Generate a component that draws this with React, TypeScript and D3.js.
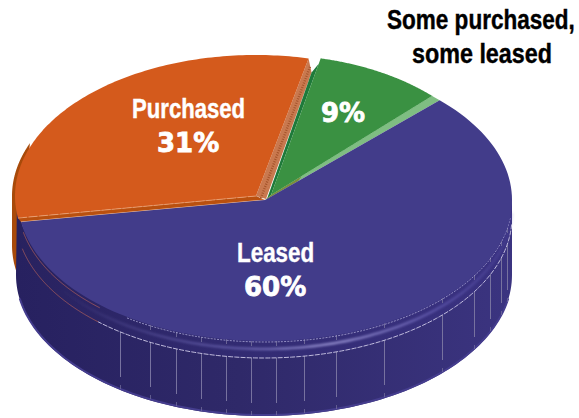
import React from "react";
import * as d3 from "d3";

// Share of each acquisition type, in percent
const categories = ["Leased", "Purchased", "Some purchased, some leased"];
const shares = [60, 31, 9];
const shareLabels = ["60%", "31%", "9%"];
const calloutLines = ["Some purchased,", "some leased"];
// Where the moulded ribs sit round the drum wall, in degrees clockwise from the top
const ribAngles = [215.4, 207.2, 200.6, 194.5, 188.6, 183, 177, 170.7, 163, 151, 134, 122, 114, 107, 101.5];

const W = 579;
const H = 418;
const DEG = Math.PI / 180;
const cx = 265;
const rx = 247;
const ry = 141;
const wallX = 264;
const wallRx = 248;
const faceY = 200;
const lipY = 217;
const wallBottomY = 275;

type Ellipse = { x: number; y: number; rx: number; ry: number };
type Pt = [number, number];

const rimPoint = (e: Ellipse, a: number): Pt => [e.x + e.rx * Math.sin(a), e.y - e.ry * Math.cos(a)];
const rimArc = (e: Ellipse, a0: number, a1: number): Pt[] =>
  d3.range(0, 121).map((i) => rimPoint(e, a0 + ((a1 - a0) * i) / 120));
const line = d3.line<Pt>();
const closed = (pts: Pt[]) => line(pts) + "Z";

const slices = d3
  .pie<number>()
  .sort(null)
  .startAngle(45 * DEG)
  .endAngle(405 * DEG)(shares);
const [leased, purchased, mixed] = slices;

const leasedFace: Ellipse = { x: cx, y: faceY, rx, ry };
const purchasedFace: Ellipse = { x: 256, y: 196, rx: 241, ry: 141 };
const mixedFace: Ellipse = { x: 271, y: 195, rx: 228, ry: 140 };
const wallEllipse = (y: number): Ellipse => ({ x: wallX, y, rx: wallRx, ry });

const wedge = (e: Ellipse, a0: number, a1: number) => closed([[e.x, e.y], ...rimArc(e, a0, a1)]);

const pCorner0 = rimPoint(purchasedFace, purchased.startAngle);
const pCorner1 = rimPoint(purchasedFace, purchased.endAngle);
const mCorner0 = rimPoint(mixedFace, mixed.startAngle);
const mCorner1 = rimPoint(mixedFace, mixed.endAngle);
const lCorner0 = rimPoint(leasedFace, leased.startAngle);
const lCorner1 = rimPoint(leasedFace, leased.endAngle);
const apex: Pt = [cx, faceY];
const pApex: Pt = [purchasedFace.x, purchasedFace.y];
const mApex: Pt = [mixedFace.x, mixedFace.y];
const stripEnd: Pt = [pCorner1[0] + 3, pCorner1[1] + 14];

const lerp = (a: Pt, b: Pt, t: number): Pt => [a[0] + (b[0] - a[0]) * t, a[1] + (b[1] - a[1]) * t];

// The wall's upper edge runs a little under the top face so no seam shows between them
const wallCloseAngle = 265 * DEG;
const underFace = wallEllipse(faceY - 6);
const wallPath = closed([
  ...rimArc(underFace, 90 * DEG, wallCloseAngle),
  ...rimArc(wallEllipse(wallBottomY), 270 * DEG, 90 * DEG),
]);
const lipPath = closed([
  ...rimArc(underFace, 90 * DEG, wallCloseAngle),
  ...rimArc(wallEllipse(lipY), wallCloseAngle, 90 * DEG),
]);

const orangeWallTop: Ellipse = { x: 258, y: 196, rx: 246, ry: 141 };
const orangeWallBottom: Ellipse = { x: 258, y: 245, rx: 246, ry: 141 };
const orangeWall = closed([
  ...rimArc(orangeWallTop, 292 * DEG, 270 * DEG),
  ...rimArc(orangeWallBottom, 270 * DEG, 258 * DEG),
]);

const pctFont = "'DejaVu Sans', sans-serif";

type LabelProps = { x: number; y: number; squeeze: number; size: number; fill: string; children: string };
// Condensed heading: Liberation Sans Bold squeezed horizontally
const Heading = ({ x, y, squeeze, size, fill, children }: LabelProps) => (
  <text
    transform={`translate(${x},${y}) scale(${squeeze},1)`}
    fontFamily="'Liberation Sans', sans-serif"
    fontWeight={700}
    fontSize={size}
    fill={fill}
    stroke={fill}
    strokeWidth={0.4}
  >
    {children}
  </text>
);
const Share = ({ x, y, squeeze, size, fill, children }: LabelProps) => (
  <text
    transform={`translate(${x},${y}) scale(${squeeze},1)`}
    fontFamily={pctFont}
    fontWeight={700}
    fontSize={size}
    fill={fill}
    stroke={fill}
    strokeWidth={0.8}
  >
    {children}
  </text>
);

export default function App() {
  const ribs = ribAngles.map((d) => d * DEG);
  return (
    <svg
      width={W}
      height={H}
      viewBox={`0 0 ${W} ${H}`}
      style={{ position: "absolute", left: 0, top: 0, background: "#fff" }}
    >
      <defs>
        <linearGradient id="wallShade" gradientUnits="userSpaceOnUse" x1={16} x2={512} y1={0} y2={0}>
          <stop offset="0" stopColor="#272160" />
          <stop offset="0.45" stopColor="#2f2969" />
          <stop offset="1" stopColor="#3b3480" />
        </linearGradient>
        <linearGradient id="lipShade" gradientUnits="userSpaceOnUse" x1={16} x2={512} y1={0} y2={0}>
          <stop offset="0" stopColor="#28225f" />
          <stop offset="0.5" stopColor="#332c74" />
          <stop offset="1" stopColor="#3a3282" />
        </linearGradient>
        <linearGradient id="lipGlow" gradientUnits="userSpaceOnUse" x1={60} x2={512} y1={0} y2={0}>
          <stop offset="0" stopColor="#6a64b0" stopOpacity="0" />
          <stop offset="0.4" stopColor="#6a64b0" stopOpacity="0.75" />
          <stop offset="0.6" stopColor="#8e88c8" stopOpacity="1" />
          <stop offset="0.85" stopColor="#5a52a8" stopOpacity="0.8" />
          <stop offset="1" stopColor="#5a52a8" stopOpacity="0.2" />
        </linearGradient>
        <filter id="soft" x="-5%" y="-20%" width="110%" height="140%">
          <feGaussianBlur stdDeviation="1.1" />
        </filter>
      </defs>

      {/* Orange wall peeking out behind the left of the drum */}
      <path d={orangeWall} fill="#a84a0a" />

      {/* Drum wall and moulded lip of the leased slice */}
      <path d={wallPath} fill="url(#wallShade)" />
      <path
        d={line(rimArc(wallEllipse(wallBottomY - 1), 100 * DEG, 260 * DEG)) ?? ""}
        fill="none"
        stroke="#453d8e"
        strokeWidth={2}
      />
      <path d={lipPath} fill="url(#lipShade)" />
      <path
        d={line(rimArc(wallEllipse(faceY + 8), 92 * DEG, 240 * DEG)) ?? ""}
        fill="none"
        stroke="url(#lipGlow)"
        strokeWidth={2.6}
        filter="url(#soft)"
      />

      {/* Ribs on the wall, with a short stub at the base and at the lip */}
      {ribs.map((a, i) => {
        const [x1, y1] = rimPoint(wallEllipse(lipY), a);
        const [, y2] = rimPoint(wallEllipse(wallBottomY - 13), a);
        const [, y3] = rimPoint(wallEllipse(wallBottomY - 5), a);
        const [, y4] = rimPoint(wallEllipse(wallBottomY - 1), a);
        const [, y5] = rimPoint(wallEllipse(faceY), a);
        const [, y6] = rimPoint(wallEllipse(faceY + 5), a);
        return (
          <g key={i} stroke="#77729f" strokeWidth={1} shapeRendering="crispEdges">
            <line x1={x1} x2={x1} y1={y1} y2={y2} />
            <line x1={x1} x2={x1} y1={y3} y2={y4} opacity={0.7} />
            {i > 0 && <line x1={x1} x2={x1} y1={y5} y2={y6} opacity={0.8} />}
          </g>
        );
      })}

      {/* Stitched highlights along the lip */}
      <path
        d={line(rimArc(wallEllipse(lipY), 93 * DEG, 222 * DEG)) ?? ""}
        fill="none"
        stroke="#cfcbe8"
        strokeWidth={0.9}
        strokeDasharray="5 1.2"
      />
      <path
        d={line(rimArc(wallEllipse(lipY), 222 * DEG, 257 * DEG)) ?? ""}
        fill="none"
        stroke="#a65a5c"
        strokeWidth={0.8}
      />
      <path
        d={line(rimArc({ ...leasedFace, y: faceY + 1 }, 97 * DEG, 214 * DEG)) ?? ""}
        fill="none"
        stroke="#aaa6d6"
        strokeWidth={0.8}
        strokeDasharray="2 1.2"
      />
      <path
        d={line(rimArc({ ...leasedFace, y: faceY + 3 }, 222 * DEG, 258 * DEG)) ?? ""}
        fill="none"
        stroke="#a65a5c"
        strokeWidth={0.8}
      />

      {/* Purchased slice: cut faces, then the top */}
      <path d={closed([pApex, pCorner1, stripEnd, [apex[0] + 1, apex[1] - 1]])} fill="#c9794f" />
      <path
        d={line([lerp(pApex, apex, 0.55), lerp(pCorner1, stripEnd, 0.55)]) ?? ""}
        stroke="#a4532a"
        strokeWidth={2.4}
        strokeDasharray="1 1.4"
        fill="none"
      />
      <path d={closed([pCorner0, pApex, apex, lCorner1])} fill="#b9500f" />
      <path d={line([lCorner1, apex]) ?? ""} stroke="#f6c4a0" strokeWidth={1.2} fill="none" />
      <path d={wedge(purchasedFace, purchased.startAngle, purchased.endAngle)} fill="#d45a1c" />
      <path
        d={line([pCorner0, pApex]) ?? ""}
        stroke="#eba377"
        strokeWidth={0.8}
        strokeDasharray="9 1.5"
        fill="none"
      />

      {/* Some-of-each slice: darker cut on the left, pale cut below */}
      <path
        d={closed([[apex[0] + 2, apex[1] - 1], stripEnd, lerp(mApex, mCorner0, 0.96), mApex])}
        fill="#1e7a3a"
      />
      <path d={closed([mApex, mCorner1, lCorner0, apex])} fill="#7fbe82" />
      <path
        d={closed([mApex, lerp(mApex, mCorner1, 0.19), lerp(apex, lCorner0, 0.19), apex])}
        fill="#7c8f3a"
      />
      <path d={wedge(mixedFace, mixed.startAngle, mixed.endAngle)} fill="#3a9142" />
      <path
        d={line([mCorner1, lerp(mCorner1, mApex, 0.8)]) ?? ""}
        stroke="#6fb473"
        strokeWidth={0.7}
        strokeDasharray="3 1.5"
        fill="none"
      />

      {/* Leased slice on top of everything */}
      <path d={wedge(leasedFace, leased.startAngle, leased.endAngle)} fill="#423c8a" />

      {/* Category and share labels */}
      <Heading x={132} y={118} squeeze={0.82} size={27} fill="#fff">{categories[1]}</Heading>
      <Share x={157} y={152} squeeze={1} size={26} fill="#fff">{shareLabels[1]}</Share>
      <Share x={321} y={122} squeeze={1} size={26} fill="#fff">{shareLabels[2]}</Share>
      <Heading x={237} y={262} squeeze={0.83} size={27} fill="#fff">{categories[0]}</Heading>
      <Share x={244} y={296} squeeze={1} size={26} fill="#fff">{shareLabels[0]}</Share>
      <Heading x={387} y={29} squeeze={0.835} size={27} fill="#000">{calloutLines[0]}</Heading>
      <Heading x={412} y={63} squeeze={0.864} size={27} fill="#000">{calloutLines[1]}</Heading>
    </svg>
  );
}
